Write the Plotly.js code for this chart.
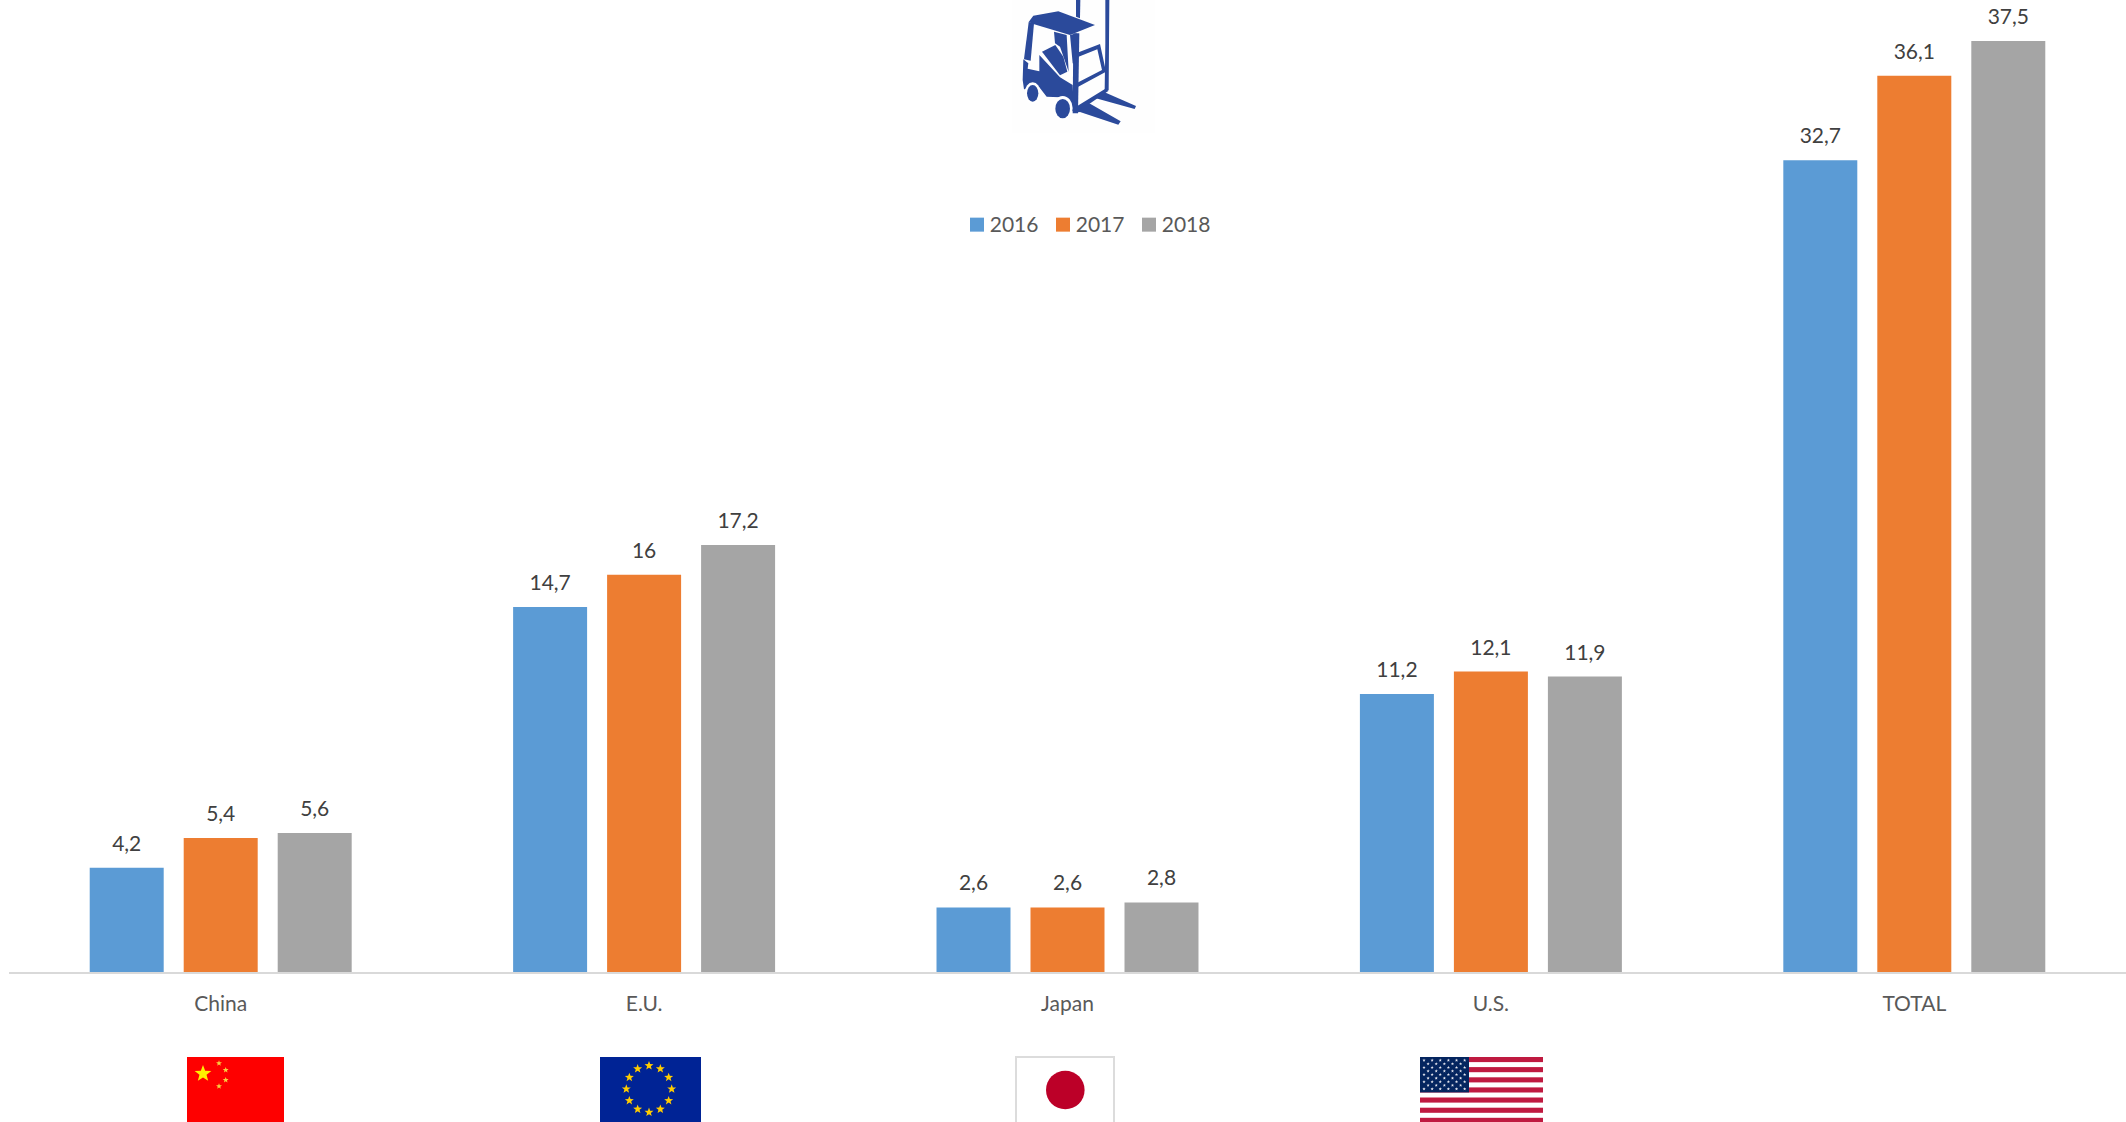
<!DOCTYPE html>
<html><head><meta charset="utf-8">
<script src="https://cdn.plot.ly/plotly-3.0.1.min.js"></script>
<style>html,body{margin:0;padding:0;background:#fff;overflow:hidden}</style>
</head><body><div id="chart" style="width:2126px;height:1122px"></div>
<script>
const categories = ["China","E.U.","Japan","U.S.","TOTAL"];
const values2016 = [4.2,14.7,2.6,11.2,32.7];
const values2017 = [5.4,16,2.6,12.1,36.1];
const values2018 = [5.6,17.2,2.8,11.9,37.5];
const seriesNames = ["2016","2017","2018"];
const seriesColors = ["#5b9bd5","#ed7d31","#a5a5a5"];
const FONT = "Lato, Carlito, Calibri, sans-serif";
const fmt = v => String(v).replace('.',',');
const uri = s => 'data:image/svg+xml;utf8,' + encodeURIComponent(s);
function star(cx,cy,r,fill){let p=[];for(let i=0;i<10;i++){const a=-Math.PI/2+i*Math.PI/5,q=i%2?r*0.42:r;p.push((cx+q*Math.cos(a)).toFixed(2)+','+(cy+q*Math.sin(a)).toFixed(2));}return `<polygon points="${p.join(' ')}" fill="${fill}"/>`;}
const china = `<svg xmlns="http://www.w3.org/2000/svg" width="97" height="65" viewBox="0 0 97 65"><rect width="97" height="65" fill="#fe0000"/>${star(16,16.7,8.8,'#fff000')}${star(32,6.3,3.1,'#f8d040')}${star(38.7,13,3.1,'#f8d040')}${star(38.7,23,3.1,'#f8d040')}${star(32,29.3,3.1,'#f8d040')}</svg>`;
let euStars='';for(let i=0;i<12;i++){const a=i*Math.PI/6;euStars+=star(49+22.7*Math.sin(a),32-23.3*Math.cos(a),4.7,'#ffcc00');}
const eu = `<svg xmlns="http://www.w3.org/2000/svg" width="101" height="65" viewBox="0 0 101 65"><rect width="101" height="65" fill="#002395"/>${euStars}</svg>`;
const japan = `<svg xmlns="http://www.w3.org/2000/svg" width="100" height="66" viewBox="0 0 100 66"><rect x="1" y="1" width="98" height="80" fill="#fff" stroke="#dcdcdc" stroke-width="2"/><circle cx="50.3" cy="34" r="19.3" fill="#bc0028"/></svg>`;
let usStripes='';for(let i=0;i<7;i++){usStripes+=`<rect y="${(i*10.13).toFixed(1)}" width="123" height="5.1" fill="#bf1a40"/>`;}
let usStars='';for(let r=0;r<9;r++){const n=r%2?5:6;for(let c=0;c<n;c++){usStars+=star((r%2?8.1:4)+c*8.13,3.3+r*3.58,1.7,'#e8e8f0');}}
const us = `<svg xmlns="http://www.w3.org/2000/svg" width="123" height="65" viewBox="0 0 123 65"><rect width="123" height="65" fill="#fff"/>${usStripes}<rect width="49" height="35.4" fill="#04255f"/>${usStars}</svg>`;
const B='#2b4a9b';
const forklift = `<svg xmlns="http://www.w3.org/2000/svg" width="260" height="250" viewBox="0 0 780 750"><rect x="95" y="0" width="430" height="400" fill="#fefefe"/>
<g fill="${B}">
<polygon points="288,0 301,0 300,55 288,50"/>
<polygon points="376,0 388,0 387,130 386,270 374,270 376,130"/>
<polygon points="146,66 160,47 235,34 345,75 270,105 160,72"/>
<polygon points="146,66 162,70 152,182 132,178"/>
<polygon points="222,95 260,105 266,215 240,140 225,130"/>
<polygon points="270,105 290,100 290,195 278,190"/>
<polygon points="186,155 226,135 250,170 262,215 240,226"/>
<polygon points="130,178 145,190 143,206 178,214 178,165 240,232 278,255 282,338 240,292 200,290 178,262 132,268 128,240"/>
<polygon points="280,100 298,100 294,340 278,340"/>
<polygon points="292,158 360,132 378,215 292,262 292,248 366,210 352,148 292,172"/>
<polygon points="292,318 376,266 386,272 292,336"/>
<polygon points="372,276 468,318 464,327 345,294"/>
<polygon points="325,308 422,364 415,374 300,336 284,338"/>
</g>
<ellipse cx="158" cy="279" rx="24" ry="32" fill="#fff"/><ellipse cx="158" cy="280" rx="17" ry="25" fill="${B}"/>
<ellipse cx="248" cy="324" rx="30" ry="36" fill="#fff"/><ellipse cx="248" cy="326" rx="22" ry="29" fill="${B}"/>
</svg>`;
const L=9, W=2126-L, H=972;
const decor = [[china,187,1057,97,65],[eu,600,1057,101,65],[japan,1015,1056,100,66],[us,1420,1057,123,65],[forklift,980,0,260,250]];
const images = decor.map(d=>({source:uri(d[0]),xref:'paper',yref:'paper',x:(d[1]-L)/W,y:1-d[2]/H,sizex:d[3]/W,sizey:d[4]/H,xanchor:'left',yanchor:'top',sizing:'stretch',layer:'above'}));
const allValues=[values2016,values2017,values2018];
const traces = allValues.map((vals,i)=>({type:'bar',name:seriesNames[i],x:categories,y:vals,text:vals.map(fmt),textposition:'outside',cliponaxis:false,textangle:0,constraintext:'none',textfont:{family:FONT,size:21,color:'#404040'},marker:{color:seriesColors[i]},hoverinfo:'x+y'}));
const layout = {
  width:2126,height:1122,margin:{l:L,r:0,t:0,b:150,pad:0},paper_bgcolor:'#fff',plot_bgcolor:'#fff',
  barmode:'group',bargap:0.334,bargroupgap:0.2128,
  font:{family:FONT,color:'#595959',size:21},
  xaxis:{type:'category',showline:true,linecolor:'#d9d9d9',linewidth:2,ticks:'outside',ticklen:12,tickcolor:'rgba(0,0,0,0)',showgrid:false,zeroline:false,tickfont:{family:FONT,size:21,color:'#595959'}},
  yaxis:{range:[0,39.15],visible:false,showgrid:false,zeroline:false},
  showlegend:true,
  legend:{orientation:'h',entrywidth:41,entrywidthmode:'pixels',x:(949.7-L)/W,xanchor:'left',y:1-224/H,yanchor:'middle',font:{family:FONT,size:21,color:'#595959'},bgcolor:'rgba(0,0,0,0)',itemclick:false,itemdoubleclick:false,traceorder:'normal'},
  images:images
};
Plotly.newPlot('chart',traces,layout,{displayModeBar:false,responsive:false}).then(()=>{
  const root=document.getElementById('chart');
  root.querySelectorAll('.bars .bartext').forEach(t=>{
    t.setAttribute('transform','translate(0,-10) '+(t.getAttribute('transform')||''));
  });
  root.querySelectorAll('.legend .legendpoints path').forEach(p=>{
    p.setAttribute('d','M7,7H-7V-7H7Z');
    p.setAttribute('transform','translate(27.3,1)');
  });
  root.querySelectorAll('.legend, .legend .scrollbox, .legend .traces').forEach(g=>{
    g.removeAttribute('clip-path');
    g.style.clipPath='none';
  });
});
</script></body></html>
